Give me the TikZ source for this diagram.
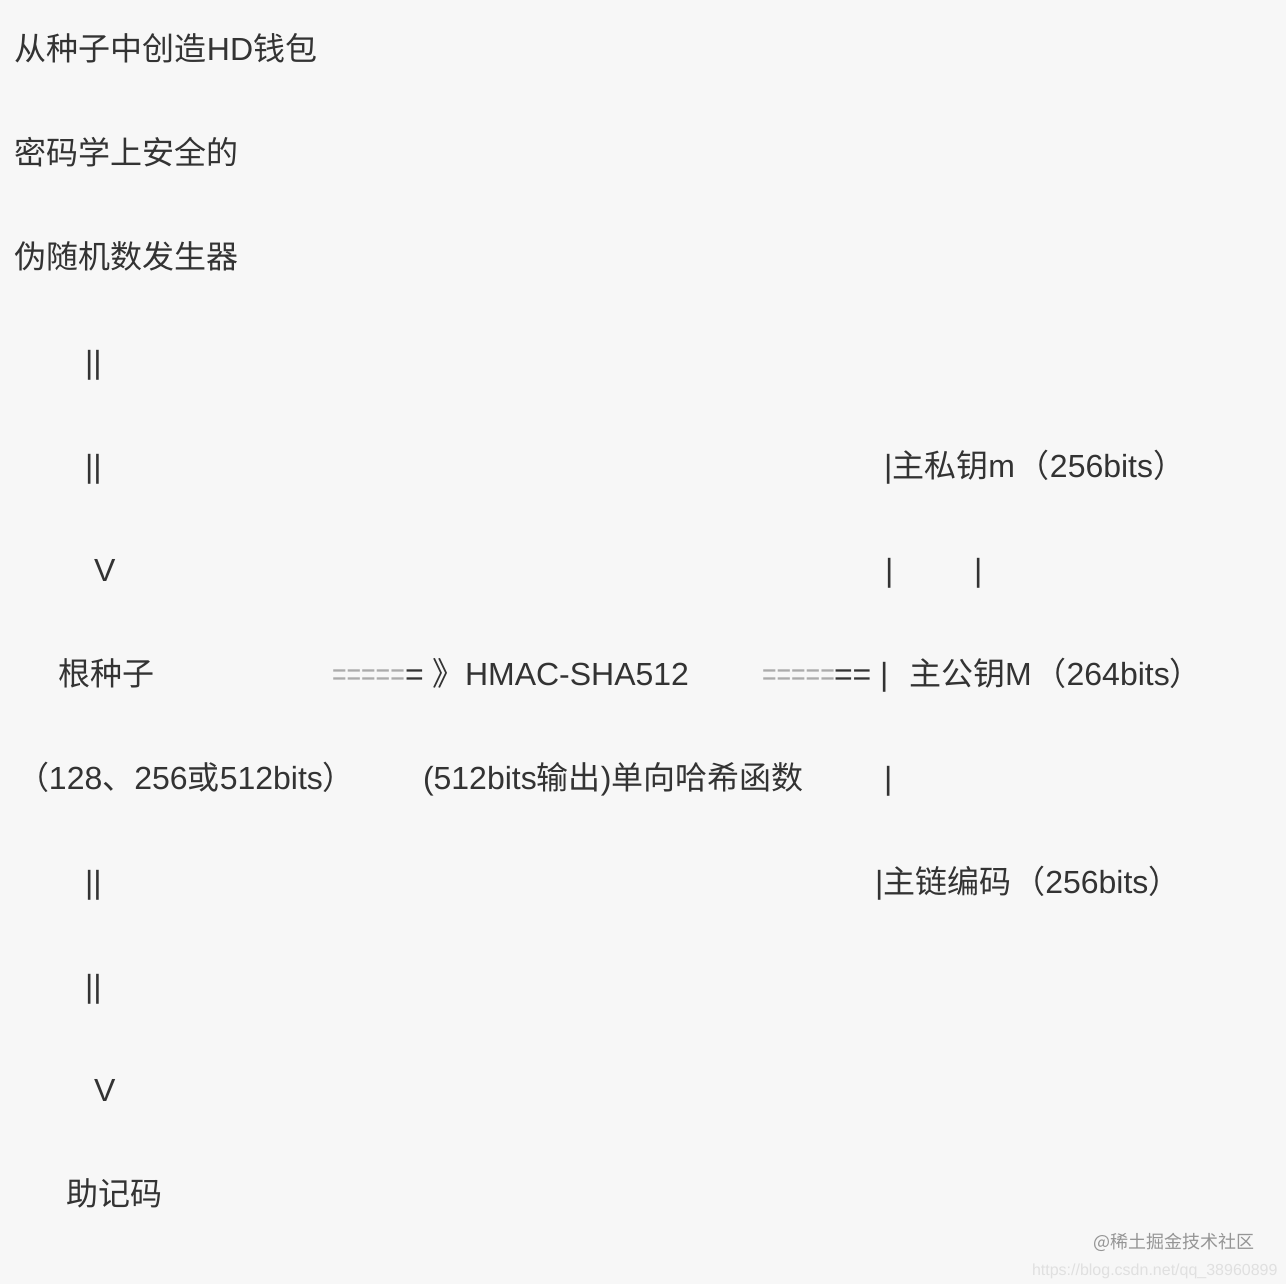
\documentclass[tikz,border=0pt]{standalone}
\usepackage{fontspec}
\usepackage{graphicx}
\setmainfont{Liberation Sans}
\newfontfamily\cjk{Noto Sans CJK SC}
\definecolor{bg}{HTML}{F7F7F7}
\definecolor{txt}{HTML}{333333}
\definecolor{eqg}{HTML}{ABABAB}
\definecolor{wm}{HTML}{959595}
\definecolor{wmlight}{HTML}{E0E0E0}
\begin{document}
\begin{tikzpicture}[x=1pt,y=-1pt,
  t/.style={anchor=base west, inner sep=0pt, outer sep=0pt, text=txt, font=\fontsize{32}{38}\selectfont},
  eqgray/.style={anchor=base west, inner sep=0pt, outer sep=0pt, text=eqg, font=\fontsize{32}{38}\selectfont},
  wmark/.style={anchor=base west, inner sep=0pt, outer sep=0pt, text=wm, font=\cjk\fontsize{18}{20}\selectfont},
  wmarklight/.style={anchor=base west, inner sep=0pt, outer sep=0pt, text=wmlight, font=\fontsize{16}{18}\selectfont}]
\fill[bg] (0,0) rectangle (1286,1284);
\useasboundingbox (0,0) rectangle (1286,1284);

\node[t] (l1) at (15,61) {{\cjk 从种子中创造}HD{\cjk 钱包}};
\node[t] (l2) at (15,165) {\cjk 密码学上安全的};
\node[t] (l3) at (15,269) {\cjk 伪随机数发生器};

\node[t] (b1) at (85,373) {||};

\node[t] (b2) at (85,477) {||};
\node[t] (priv) at (884,477) {|{\cjk 主私钥}m\hspace{3pt}{\cjk （}256bits{\cjk ）}};

\node[t] (v1) at (94,581) {V};
\node[t] (p1) at (885,581) {|};
\node[t] (p2) at (974,581) {|};

\node[t] (root) at (58,685) {\cjk 根种子};
\node[eqgray] (eq1) at (332,685) {\scalebox{0.78}[1]{=====}};
\node[t] (eq2) at (405,685) {=};
\node[t] (ang) at (432,685) {\cjk 》};
\node[t] (hmac) at (465,685) {HMAC-SHA512};
\node[eqgray] (eq3) at (762,685) {\scalebox{0.78}[1]{=====}};
\node[t] (eq4) at (834,685) {== |};
\node[t] (pub) at (909,685) {{\cjk 主公钥}M\hspace{3pt}{\cjk （}264bits{\cjk ）}};

\node[t] (seed) at (17,789) {{\cjk （}128{\cjk 、}256{\cjk 或}512bits{\cjk ）}};
\node[t] (out) at (423,789) {(512bits{\cjk 输出}){\cjk 单向哈希函数}};
\node[t] (p3) at (884,789) {|};

\node[t] (b3) at (85,893) {||};
\node[t] (chain) at (875,893) {|{\cjk 主链编码}\hspace{2pt}{\cjk （}256bits{\cjk ）}};

\node[t] (b4) at (85,997) {||};
\node[t] (v2) at (94,1101) {V};
\node[t] (mn) at (66,1205) {\cjk 助记码};

\node[wmark] (wm1) at (1093,1248) {@稀土掘金技术社区};
\node[wmarklight] (wm2) at (1032,1275) {https://blog.csdn.net/qq\_38960899};
\end{tikzpicture}
\end{document}
